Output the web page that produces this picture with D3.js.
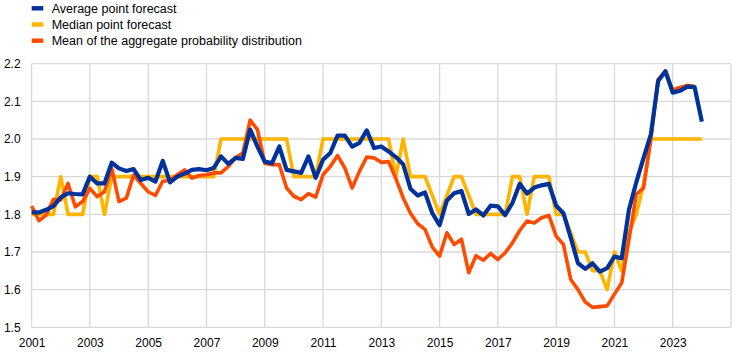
<!DOCTYPE html>
<html>
<head>
<meta charset="utf-8">
<script src="https://cdn.jsdelivr.net/npm/d3@7"></script>
<style>
  html, body { margin: 0; padding: 0; background: #ffffff; }
  svg { display: block; font-family: "Liberation Sans", Arial, sans-serif; }
</style>
</head>
<body>
<svg id="chart" width="744" height="353"></svg>
<script>
// ---------------- DATA ----------------
const quarters = [
  "2001Q1","2001Q2","2001Q3","2001Q4","2002Q1","2002Q2","2002Q3","2002Q4",
  "2003Q1","2003Q2","2003Q3","2003Q4","2004Q1","2004Q2","2004Q3","2004Q4",
  "2005Q1","2005Q2","2005Q3","2005Q4","2006Q1","2006Q2","2006Q3","2006Q4",
  "2007Q1","2007Q2","2007Q3","2007Q4","2008Q1","2008Q2","2008Q3","2008Q4",
  "2009Q1","2009Q2","2009Q3","2009Q4","2010Q1","2010Q2","2010Q3","2010Q4",
  "2011Q1","2011Q2","2011Q3","2011Q4","2012Q1","2012Q2","2012Q3","2012Q4",
  "2013Q1","2013Q2","2013Q3","2013Q4","2014Q1","2014Q2","2014Q3","2014Q4",
  "2015Q1","2015Q2","2015Q3","2015Q4","2016Q1","2016Q2","2016Q3","2016Q4",
  "2017Q1","2017Q2","2017Q3","2017Q4","2018Q1","2018Q2","2018Q3","2018Q4",
  "2019Q1","2019Q2","2019Q3","2019Q4","2020Q1","2020Q2","2020Q3","2020Q4",
  "2021Q1","2021Q2","2021Q3","2021Q4","2022Q1","2022Q2","2022Q3","2022Q4",
  "2023Q1","2023Q2","2023Q3","2023Q4","2024Q1"
];

const averagePointForecast = [
  1.805,1.805,1.812,1.822,1.845,1.856,1.854,1.853,
  1.900,1.882,1.882,1.937,1.922,1.915,1.920,1.891,
  1.897,1.887,1.942,1.885,1.900,1.908,1.918,1.920,
  1.917,1.923,1.954,1.934,1.950,1.947,2.025,1.980,
  1.940,1.936,1.980,1.918,1.914,1.910,1.954,1.897,
  1.945,1.963,2.009,2.009,1.980,1.990,2.023,1.976,
  1.980,1.967,1.952,1.933,1.868,1.850,1.858,1.803,
  1.771,1.837,1.856,1.862,1.801,1.813,1.797,1.823,
  1.821,1.798,1.830,1.881,1.855,1.871,1.877,1.881,
  1.823,1.803,1.738,1.670,1.655,1.670,1.648,1.657,
  1.688,1.683,1.813,1.885,1.950,2.012,2.154,2.180,
  2.123,2.128,2.139,2.138,2.046
];

const medianPointForecast = [
  1.80,1.80,1.80,1.80,1.90,1.80,1.80,1.80,
  1.90,1.90,1.80,1.90,1.90,1.90,1.90,1.90,
  1.90,1.90,1.90,1.90,1.90,1.90,1.90,1.90,
  1.90,1.90,2.00,2.00,2.00,2.00,2.00,2.00,
  2.00,2.00,2.00,2.00,1.90,1.90,1.90,1.90,
  2.00,2.00,2.00,2.00,2.00,2.00,2.00,2.00,
  2.00,2.00,1.90,2.00,1.90,1.90,1.90,1.85,
  1.80,1.85,1.90,1.90,1.85,1.80,1.80,1.80,
  1.80,1.80,1.90,1.90,1.80,1.90,1.90,1.90,
  1.80,1.80,1.75,1.70,1.70,1.65,1.65,1.60,
  1.70,1.65,1.75,1.80,1.88,2.00,2.00,2.00,
  2.00,2.00,2.00,2.00,2.00
];

const meanProbabilityDistribution = [
  1.822,1.783,1.798,1.840,1.838,1.882,1.820,1.834,
  1.869,1.847,1.860,1.922,1.834,1.843,1.904,1.882,
  1.860,1.850,1.888,1.890,1.905,1.918,1.896,1.903,
  1.905,1.910,1.910,1.927,1.950,1.963,2.050,2.025,
  1.936,1.932,1.932,1.870,1.848,1.839,1.855,1.846,
  1.905,1.927,1.956,1.923,1.870,1.914,1.952,1.950,
  1.938,1.940,1.895,1.844,1.803,1.775,1.760,1.713,
  1.689,1.751,1.720,1.734,1.645,1.690,1.678,1.696,
  1.680,1.698,1.724,1.757,1.782,1.777,1.791,1.797,
  1.742,1.720,1.627,1.600,1.567,1.553,1.555,1.557,
  1.588,1.618,1.733,1.853,1.870,2.000,2.158,2.180,
  2.130,2.137,2.142,2.140,null
];

const xTickLabels = ["2001","2003","2005","2007","2009","2011","2013","2015","2017","2019","2021","2023"];
const yTicks = [1.5, 1.6, 1.7, 1.8, 1.9, 2.0, 2.1, 2.2];

const seriesNames = ["Average point forecast", "Median point forecast", "Mean of the aggregate probability distribution"];
const seriesColors = ["#003299", "#FFB400", "#FF4B00"];

// ---------------- CHART ----------------
(function () {
  const svg = d3.select("#chart");
  const plotL = 31.6, plotR = 731, plotT = 63.7, plotB = 327.3;

  const toYear = q => +q.slice(0, 4) + (+q.slice(5) - 1) / 4;

  const x = d3.scaleLinear().domain([2001, 2025]).range([plotL, plotR]);
  const y = d3.scaleLinear().domain([1.5, 2.2]).range([plotB, plotT]);

  const gridColor = "#d9d9d9";

  // horizontal gridlines
  svg.append("g").selectAll("line").data(yTicks).join("line")
    .attr("x1", plotL).attr("x2", plotR)
    .attr("y1", d => y(d)).attr("y2", d => y(d))
    .attr("stroke", gridColor).attr("stroke-width", 1.3);

  // vertical gridlines every two years (incl. right edge)
  const vGrid = xTickLabels.map(d => +d).concat([2025]);
  svg.append("g").selectAll("line").data(vGrid).join("line")
    .attr("x1", d => x(d)).attr("x2", d => x(d))
    .attr("y1", plotT).attr("y2", plotB)
    .attr("stroke", gridColor).attr("stroke-width", 1.3);

  // y axis labels
  const yAxis = d3.axisLeft(y).tickValues(yTicks).tickFormat(d3.format(".1f")).tickSize(0).tickPadding(11);
  const gy = svg.append("g").attr("transform", `translate(${plotL},0)`).call(yAxis);
  gy.select(".domain").remove();
  gy.selectAll("text").attr("font-size", 12).attr("fill", "#000")
    .attr("font-family", "'Liberation Sans', Arial, sans-serif");

  // x axis labels
  const xAxis = d3.axisBottom(x).tickValues(xTickLabels.map(d => +d)).tickFormat(d3.format("d")).tickSize(0).tickPadding(11);
  const gx = svg.append("g").attr("transform", `translate(0,${plotB})`).call(xAxis);
  gx.select(".domain").remove();
  gx.selectAll("text").attr("font-size", 12).attr("fill", "#000")
    .attr("font-family", "'Liberation Sans', Arial, sans-serif");

  // lines: yellow bottom, orange, blue top
  const lineGen = d3.line()
    .defined(d => d.v !== null)
    .x(d => x(toYear(d.q)))
    .y(d => y(d.v));

  const drawOrder = [
    { values: medianPointForecast, color: seriesColors[1], w: 3.6 },
    { values: meanProbabilityDistribution, color: seriesColors[2], w: 3.6 },
    { values: averagePointForecast, color: seriesColors[0], w: 4.2 }
  ];
  drawOrder.forEach(s => {
    const pts = quarters.map((q, i) => ({ q, v: s.values[i] }));
    svg.append("path").datum(pts)
      .attr("d", lineGen)
      .attr("fill", "none")
      .attr("stroke", s.color)
      .attr("stroke-width", s.w)
      .attr("stroke-linejoin", "round")
      .attr("stroke-linecap", "butt");
  });

  // legend
  const legend = svg.append("g");
  seriesNames.forEach((name, i) => {
    const cy = 8.3 + i * 16.2;
    legend.append("rect")
      .attr("x", 31.7).attr("y", cy - 2.2).attr("width", 11.6).attr("height", 4.4)
      .attr("fill", seriesColors[i]);
    legend.append("text")
      .attr("x", 51.7).attr("y", cy + 4.4)
      .attr("font-size", 12.5).attr("fill", "#000")
      .text(name);
  });
})();
</script>
</body>
</html>
